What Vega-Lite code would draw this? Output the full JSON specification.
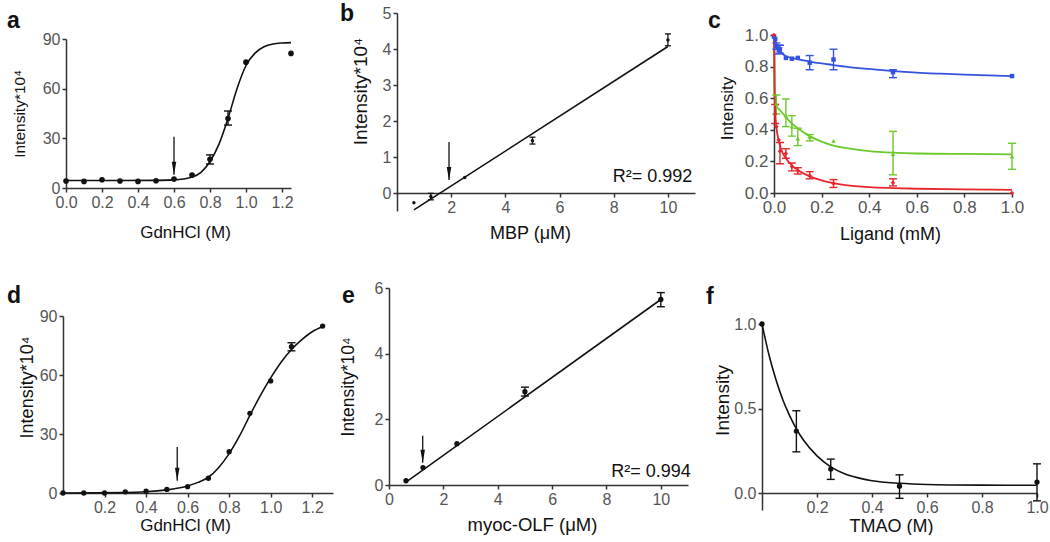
{
"$schema":"https://vega.github.io/schema/vega-lite/v6.json",
"background":"white",
"padding":{"left":7,"top":3,"right":0,"bottom":0},
"columns":3,
"spacing":{"row":77,"column":56},
"bounds":"flush",
"align":"each",
"datasets":{
"a_fit":[{"x":0,"y":4.5},{"x":0.3,"y":4.5},{"x":0.5,"y":4.6},{"x":0.6,"y":4.9},{"x":0.65,"y":5.4},{"x":0.7,"y":6.6},{"x":0.75,"y":9.5},{"x":0.8,"y":16},{"x":0.85,"y":26.5},{"x":0.9,"y":42},{"x":0.95,"y":60},{"x":1.0,"y":74},{"x":1.05,"y":81.5},{"x":1.1,"y":85.3},{"x":1.15,"y":87},{"x":1.2,"y":87.6},{"x":1.25,"y":87.8}],
"a_pts":[{"x":0,"y":4.2},{"x":0.1,"y":4.0},{"x":0.2,"y":5.0},{"x":0.3,"y":4.2},{"x":0.4,"y":4.0},{"x":0.5,"y":4.4},{"x":0.6,"y":5.4},{"x":0.7,"y":7.8},{"x":0.8,"y":17.3},{"x":0.9,"y":42},{"x":1.0,"y":76},{"x":1.25,"y":81.3}],
"a_err":[{"x":0.8,"lo":14.5,"hi":20},{"x":0.9,"lo":38,"hi":46.5}],
"a_arrow":[{"x":0.6,"y":31,"y2":8}],
"b_fit":[{"x":0.625,"y":-0.47},{"x":10,"y":4.07}],
"b_pts":[{"x":0.625,"y":-0.27},{"x":1.25,"y":-0.1},{"x":2.5,"y":0.43},{"x":5,"y":1.45},{"x":10,"y":4.25}],
"b_err":[{"x":1.25,"lo":-0.19,"hi":-0.01},{"x":5,"lo":1.36,"hi":1.55},{"x":10,"lo":4.09,"hi":4.42}],
"b_arrow":[{"x":1.92,"y":1.42,"y2":0.36}],
"b_txt":[{"x":10.9,"y":0.44,"t":"R²= 0.992"}],
"c_fit":[
{"s":"blue","x":0,"y":1.0},{"s":"blue","x":0.005,"y":0.97},{"s":"blue","x":0.01,"y":0.945},{"s":"blue","x":0.02,"y":0.912},{"s":"blue","x":0.03,"y":0.89},{"s":"blue","x":0.05,"y":0.866},{"s":"blue","x":0.075,"y":0.855},{"s":"blue","x":0.1,"y":0.847},{"s":"blue","x":0.15,"y":0.832},{"s":"blue","x":0.2,"y":0.82},{"s":"blue","x":0.25,"y":0.81},{"s":"blue","x":0.3,"y":0.8},{"s":"blue","x":0.4,"y":0.785},{"s":"blue","x":0.5,"y":0.772},{"s":"blue","x":0.6,"y":0.762},{"s":"blue","x":0.7,"y":0.755},{"s":"blue","x":0.8,"y":0.749},{"s":"blue","x":0.9,"y":0.744},{"s":"blue","x":1.0,"y":0.74},
{"s":"green","x":0,"y":1.0},{"s":"green","x":0.003,"y":0.62},{"s":"green","x":0.006,"y":0.565},{"s":"green","x":0.01,"y":0.55},{"s":"green","x":0.025,"y":0.525},{"s":"green","x":0.05,"y":0.48},{"s":"green","x":0.075,"y":0.44},{"s":"green","x":0.1,"y":0.41},{"s":"green","x":0.15,"y":0.36},{"s":"green","x":0.2,"y":0.325},{"s":"green","x":0.25,"y":0.3},{"s":"green","x":0.3,"y":0.285},{"s":"green","x":0.4,"y":0.265},{"s":"green","x":0.5,"y":0.255},{"s":"green","x":0.6,"y":0.25},{"s":"green","x":0.8,"y":0.247},{"s":"green","x":1.0,"y":0.245},
{"s":"red","x":0,"y":1.0},{"s":"red","x":0.002,"y":0.7},{"s":"red","x":0.005,"y":0.52},{"s":"red","x":0.01,"y":0.42},{"s":"red","x":0.02,"y":0.33},{"s":"red","x":0.03,"y":0.275},{"s":"red","x":0.05,"y":0.22},{"s":"red","x":0.075,"y":0.175},{"s":"red","x":0.1,"y":0.145},{"s":"red","x":0.15,"y":0.105},{"s":"red","x":0.2,"y":0.08},{"s":"red","x":0.25,"y":0.062},{"s":"red","x":0.3,"y":0.05},{"s":"red","x":0.4,"y":0.037},{"s":"red","x":0.5,"y":0.031},{"s":"red","x":0.6,"y":0.027},{"s":"red","x":0.8,"y":0.023},{"s":"red","x":1.0,"y":0.02}],
"c_pts":[
{"s":"blue","x":0,"y":0.99},{"s":"blue","x":0.005,"y":0.975},{"s":"blue","x":0.01,"y":0.93},{"s":"blue","x":0.02,"y":0.905},{"s":"blue","x":0.025,"y":0.91},{"s":"blue","x":0.05,"y":0.855},{"s":"blue","x":0.075,"y":0.85},{"s":"blue","x":0.1,"y":0.855},{"s":"blue","x":0.15,"y":0.825},{"s":"blue","x":0.25,"y":0.845},{"s":"blue","x":0.5,"y":0.765},{"s":"blue","x":1.0,"y":0.74},
{"s":"green","x":0.01,"y":0.565},{"s":"green","x":0.05,"y":0.49},{"s":"green","x":0.075,"y":0.42},{"s":"green","x":0.1,"y":0.345},{"s":"green","x":0.15,"y":0.355},{"s":"green","x":0.25,"y":0.33},{"s":"green","x":0.5,"y":0.247},{"s":"green","x":1.0,"y":0.23},
{"s":"red","x":0,"y":1.0},{"s":"red","x":0.005,"y":0.5},{"s":"red","x":0.01,"y":0.42},{"s":"red","x":0.02,"y":0.335},{"s":"red","x":0.025,"y":0.265},{"s":"red","x":0.05,"y":0.25},{"s":"red","x":0.075,"y":0.167},{"s":"red","x":0.1,"y":0.14},{"s":"red","x":0.15,"y":0.11},{"s":"red","x":0.25,"y":0.06},{"s":"red","x":0.5,"y":0.065},{"s":"red","x":1.0,"y":0.0}],
"c_err":[
{"s":"blue","x":0.01,"lo":0.91,"hi":0.95},{"s":"blue","x":0.02,"lo":0.88,"hi":0.935},{"s":"blue","x":0.025,"lo":0.885,"hi":0.935},{"s":"blue","x":0.15,"lo":0.78,"hi":0.87},{"s":"blue","x":0.25,"lo":0.78,"hi":0.91},{"s":"blue","x":0.5,"lo":0.73,"hi":0.78},
{"s":"green","x":0.01,"lo":0.5,"hi":0.62},{"s":"green","x":0.05,"lo":0.42,"hi":0.595},{"s":"green","x":0.075,"lo":0.36,"hi":0.49},{"s":"green","x":0.1,"lo":0.3,"hi":0.41},{"s":"green","x":0.15,"lo":0.33,"hi":0.37},{"s":"green","x":0.5,"lo":0.115,"hi":0.39},{"s":"green","x":1.0,"lo":0.15,"hi":0.315},
{"s":"red","x":0.005,"lo":0.44,"hi":0.56},{"s":"red","x":0.025,"lo":0.185,"hi":0.32},{"s":"red","x":0.05,"lo":0.22,"hi":0.28},{"s":"red","x":0.075,"lo":0.14,"hi":0.19},{"s":"red","x":0.1,"lo":0.12,"hi":0.16},{"s":"red","x":0.15,"lo":0.09,"hi":0.135},{"s":"red","x":0.25,"lo":0.035,"hi":0.085},{"s":"red","x":0.5,"lo":0.045,"hi":0.09}],
"d_fit":[{"x":0,"y":0},{"x":0.3,"y":0.2},{"x":0.4,"y":0.6},{"x":0.5,"y":1.6},{"x":0.55,"y":2.4},{"x":0.6,"y":3.6},{"x":0.65,"y":5.4},{"x":0.7,"y":8},{"x":0.75,"y":13},{"x":0.8,"y":20},{"x":0.85,"y":29},{"x":0.9,"y":39.5},{"x":0.95,"y":49.5},{"x":1.0,"y":58.5},{"x":1.05,"y":66.5},{"x":1.1,"y":73},{"x":1.15,"y":78},{"x":1.2,"y":82},{"x":1.25,"y":84.5}],
"d_pts":[{"x":0,"y":0},{"x":0.1,"y":0},{"x":0.2,"y":0},{"x":0.3,"y":0.6},{"x":0.4,"y":0.9},{"x":0.5,"y":1.8},{"x":0.6,"y":3.2},{"x":0.7,"y":7.5},{"x":0.8,"y":21},{"x":0.9,"y":40.5},{"x":1.0,"y":57},{"x":1.1,"y":74.4},{"x":1.25,"y":84.9}],
"d_err":[{"x":1.1,"lo":72.3,"hi":76.4}],
"d_arrow":[{"x":0.55,"y":23.4,"y2":6.2}],
"e_fit":[{"x":0.6,"y":0.07},{"x":10,"y":5.65}],
"e_pts":[{"x":0.625,"y":0.13},{"x":1.25,"y":0.53},{"x":2.5,"y":1.26},{"x":5,"y":2.84},{"x":10,"y":5.65}],
"e_err":[{"x":5,"lo":2.71,"hi":2.98},{"x":10,"lo":5.43,"hi":5.86}],
"e_arrow":[{"x":1.24,"y":1.5,"y2":0.68}],
"e_txt":[{"x":11.1,"y":0.41,"t":"R²= 0.994"}],
"f_fit":[{"x":0,"y":1.0},{"x":0.025,"y":0.82},{"x":0.05,"y":0.675},{"x":0.075,"y":0.555},{"x":0.1,"y":0.46},{"x":0.125,"y":0.38},{"x":0.15,"y":0.315},{"x":0.2,"y":0.22},{"x":0.25,"y":0.155},{"x":0.3,"y":0.115},{"x":0.35,"y":0.09},{"x":0.4,"y":0.073},{"x":0.5,"y":0.058},{"x":0.6,"y":0.051},{"x":0.8,"y":0.047},{"x":1.0,"y":0.046}],
"f_pts":[{"x":0,"y":1.0},{"x":0.125,"y":0.367},{"x":0.25,"y":0.142},{"x":0.5,"y":0.041},{"x":1.0,"y":0.065}],
"f_err":[{"x":0.125,"lo":0.244,"hi":0.487},{"x":0.25,"lo":0.081,"hi":0.201},{"x":0.5,"lo":-0.031,"hi":0.108},{"x":1.0,"lo":-0.046,"hi":0.173}]
},
"concat":[
{"width":228,"height":175,
"title":{"text":"a","dx":-56,"dy":24},
"layer":[
{"data":{"name":"a_fit"},"mark":{"type":"line","interpolate":"monotone","color":"#111","strokeWidth":1.6},
"encoding":{"x":{"field":"x","type":"quantitative","scale":{"domain":[0,1.25],"range":[3,228],"nice":false,"zero":false},"axis":{"values":[0,0.2,0.4,0.6,0.8,1,1.2],"tickCount":20,"format":".1f","labelOverlap":false,"title":"GdnHCl (M)","titlePadding":14,"titleFontSize":17,"titleX":122}},
"y":{"field":"y","type":"quantitative","scale":{"domain":[0,90],"range":[175,26],"nice":false,"zero":false},"axis":{"values":[0,30,60,90],"tickCount":20,"format":"d","labelOverlap":false,"title":"Intensity*10⁴","offset":-3,"titlePadding":15,"titleFontSize":15.5}}}},
{"data":{"name":"a_err"},"mark":{"type":"rule","color":"#111","strokeWidth":1.4},
"encoding":{"x":{"field":"x","type":"quantitative","scale":{"domain":[0,1.25],"range":[3,228],"nice":false,"zero":false}},"y":{"field":"lo","type":"quantitative","scale":{"domain":[0,90],"range":[175,26],"nice":false,"zero":false}},"y2":{"field":"hi"}}},
{"data":{"name":"a_err"},"mark":{"type":"tick","orient":"horizontal","size":8,"thickness":1.4,"color":"#111","opacity":1},
"encoding":{"x":{"field":"x","type":"quantitative","scale":{"domain":[0,1.25],"range":[3,228],"nice":false,"zero":false}},"y":{"field":"lo","type":"quantitative","scale":{"domain":[0,90],"range":[175,26],"nice":false,"zero":false}}}},
{"data":{"name":"a_err"},"mark":{"type":"tick","orient":"horizontal","size":8,"thickness":1.4,"color":"#111","opacity":1},
"encoding":{"x":{"field":"x","type":"quantitative","scale":{"domain":[0,1.25],"range":[3,228],"nice":false,"zero":false}},"y":{"field":"hi","type":"quantitative","scale":{"domain":[0,90],"range":[175,26],"nice":false,"zero":false}}}},
{"data":{"name":"a_pts"},"mark":{"type":"point","shape":"circle","filled":true,"size":32,"color":"#111","opacity":1},
"encoding":{"x":{"field":"x","type":"quantitative","scale":{"domain":[0,1.25],"range":[3,228],"nice":false,"zero":false}},"y":{"field":"y","type":"quantitative","scale":{"domain":[0,90],"range":[175,26],"nice":false,"zero":false}}}},
{"data":{"name":"a_arrow"},"mark":{"type":"rule","color":"#111","strokeWidth":1.3},
"encoding":{"x":{"field":"x","type":"quantitative","scale":{"domain":[0,1.25],"range":[3,228],"nice":false,"zero":false}},"y":{"field":"y","type":"quantitative","scale":{"domain":[0,90],"range":[175,26],"nice":false,"zero":false}},"y2":{"field":"y2"}}},
{"data":{"name":"a_arrow"},"mark":{"type":"point","shape":"M-0.35,-2L0,0L0.35,-2Z","filled":true,"size":170,"color":"#111","opacity":1},
"encoding":{"x":{"field":"x","type":"quantitative","scale":{"domain":[0,1.25],"range":[3,228],"nice":false,"zero":false}},"y":{"field":"y2","type":"quantitative","scale":{"domain":[0,90],"range":[175,26],"nice":false,"zero":false}}}}
]},
{"width":317,"height":198,
"title":{"text":"b","dx":-49,"dy":25},
"layer":[
{"data":{"name":"b_fit"},"mark":{"type":"line","color":"#111","strokeWidth":1.6},
"encoding":{"x":{"field":"x","type":"quantitative","scale":{"domain":[0,11],"range":[8,306],"nice":false,"zero":false},"axis":{"values":[2,4,6,8,10],"tickCount":20,"format":"d","labelOverlap":false,"title":"MBP (μM)","offset":-18,"titlePadding":9,"titleFontSize":18,"titleX":141}},
"y":{"field":"y","type":"quantitative","scale":{"domain":[-0.5,5],"nice":false,"zero":false},"axis":{"values":[0,1,2,3,4,5],"tickCount":20,"format":"d","labelOverlap":false,"title":"Intensity*10⁴","offset":-8,"titlePadding":12,"titleFontSize":19,"titleY":78}}}},
{"data":{"name":"b_err"},"mark":{"type":"rule","color":"#111","strokeWidth":1.3},
"encoding":{"x":{"field":"x","type":"quantitative","scale":{"domain":[0,11],"range":[8,306],"nice":false,"zero":false}},"y":{"field":"lo","type":"quantitative","scale":{"domain":[-0.5,5],"nice":false,"zero":false}},"y2":{"field":"hi"}}},
{"data":{"name":"b_err"},"mark":{"type":"tick","orient":"horizontal","size":6,"thickness":1.3,"color":"#111","opacity":1},
"encoding":{"x":{"field":"x","type":"quantitative","scale":{"domain":[0,11],"range":[8,306],"nice":false,"zero":false}},"y":{"field":"lo","type":"quantitative","scale":{"domain":[-0.5,5],"nice":false,"zero":false}}}},
{"data":{"name":"b_err"},"mark":{"type":"tick","orient":"horizontal","size":6,"thickness":1.3,"color":"#111","opacity":1},
"encoding":{"x":{"field":"x","type":"quantitative","scale":{"domain":[0,11],"range":[8,306],"nice":false,"zero":false}},"y":{"field":"hi","type":"quantitative","scale":{"domain":[-0.5,5],"nice":false,"zero":false}}}},
{"data":{"name":"b_pts"},"mark":{"type":"point","shape":"circle","filled":true,"size":12,"color":"#111","opacity":1},
"encoding":{"x":{"field":"x","type":"quantitative","scale":{"domain":[0,11],"range":[8,306],"nice":false,"zero":false}},"y":{"field":"y","type":"quantitative","scale":{"domain":[-0.5,5],"nice":false,"zero":false}}}},
{"data":{"name":"b_arrow"},"mark":{"type":"rule","color":"#111","strokeWidth":1.3},
"encoding":{"x":{"field":"x","type":"quantitative","scale":{"domain":[0,11],"range":[8,306],"nice":false,"zero":false}},"y":{"field":"y","type":"quantitative","scale":{"domain":[-0.5,5],"nice":false,"zero":false}},"y2":{"field":"y2"}}},
{"data":{"name":"b_arrow"},"mark":{"type":"point","shape":"M-0.35,-2L0,0L0.35,-2Z","filled":true,"size":170,"color":"#111","opacity":1},
"encoding":{"x":{"field":"x","type":"quantitative","scale":{"domain":[0,11],"range":[8,306],"nice":false,"zero":false}},"y":{"field":"y2","type":"quantitative","scale":{"domain":[-0.5,5],"nice":false,"zero":false}}}},
{"data":{"name":"b_txt"},"mark":{"type":"text","align":"right","baseline":"middle","fontSize":18,"font":"Liberation Sans","color":"#111"},
"encoding":{"x":{"field":"x","type":"quantitative","scale":{"domain":[0,11],"range":[8,306],"nice":false,"zero":false}},"y":{"field":"y","type":"quantitative","scale":{"domain":[-0.5,5],"nice":false,"zero":false}},"text":{"field":"t"}}}
]},
{"width":250,"height":180,
"title":{"text":"c","dx":-54,"dy":24},
"layer":[
{"data":{"name":"c_fit"},"mark":{"type":"line","interpolate":"monotone","strokeWidth":1.8},
"encoding":{"x":{"field":"x","type":"quantitative","scale":{"domain":[0,1],"range":[12,250],"nice":false,"zero":false},"axis":{"values":[0,0.2,0.4,0.6,0.8,1],"tickCount":20,"format":".1f","labelOverlap":false,"title":"Ligand (mM)","titlePadding":10,"titleFontSize":18,"labelFontSize":17,"titleX":128}},
"y":{"field":"y","type":"quantitative","scale":{"domain":[0,1],"range":[180,22],"nice":false,"zero":false},"axis":{"values":[0,0.2,0.4,0.6,0.8,1],"tickCount":20,"format":".1f","labelOverlap":false,"title":"Intensity","offset":-12,"titlePadding":8,"titleFontSize":17,"labelFontSize":17,"titleY":95}},
"color":{"field":"s","type":"nominal","scale":{"domain":["blue","green","red"],"range":["#3452e0","#6cc92a","#e8262c"]},"legend":null}}},
{"data":{"name":"c_err"},"mark":{"type":"rule","strokeWidth":1.4},
"encoding":{"x":{"field":"x","type":"quantitative","scale":{"domain":[0,1],"range":[12,250],"nice":false,"zero":false}},"y":{"field":"lo","type":"quantitative","scale":{"domain":[0,1],"range":[180,22],"nice":false,"zero":false}},"y2":{"field":"hi"},
"color":{"field":"s","type":"nominal","scale":{"domain":["blue","green","red"],"range":["#3452e0","#6cc92a","#e8262c"]},"legend":null}}},
{"data":{"name":"c_err"},"mark":{"type":"tick","orient":"horizontal","size":8,"thickness":1.4,"opacity":1},
"encoding":{"x":{"field":"x","type":"quantitative","scale":{"domain":[0,1],"range":[12,250],"nice":false,"zero":false}},"y":{"field":"lo","type":"quantitative","scale":{"domain":[0,1],"range":[180,22],"nice":false,"zero":false}},
"color":{"field":"s","type":"nominal","scale":{"domain":["blue","green","red"],"range":["#3452e0","#6cc92a","#e8262c"]},"legend":null}}},
{"data":{"name":"c_err"},"mark":{"type":"tick","orient":"horizontal","size":8,"thickness":1.4,"opacity":1},
"encoding":{"x":{"field":"x","type":"quantitative","scale":{"domain":[0,1],"range":[12,250],"nice":false,"zero":false}},"y":{"field":"hi","type":"quantitative","scale":{"domain":[0,1],"range":[180,22],"nice":false,"zero":false}},
"color":{"field":"s","type":"nominal","scale":{"domain":["blue","green","red"],"range":["#3452e0","#6cc92a","#e8262c"]},"legend":null}}},
{"data":{"name":"c_pts"},"mark":{"type":"point","filled":true,"size":20,"opacity":1},
"encoding":{"x":{"field":"x","type":"quantitative","scale":{"domain":[0,1],"range":[12,250],"nice":false,"zero":false}},"y":{"field":"y","type":"quantitative","scale":{"domain":[0,1],"range":[180,22],"nice":false,"zero":false}},
"color":{"field":"s","type":"nominal","scale":{"domain":["blue","green","red"],"range":["#3452e0","#6cc92a","#e8262c"]},"legend":null},
"shape":{"field":"s","type":"nominal","scale":{"domain":["blue","green","red"],"range":["square","triangle-up","diamond"]},"legend":null}}}
]},
{"width":270,"height":205,
"title":{"text":"d","dx":-56,"dy":24},
"layer":[
{"data":{"name":"d_fit"},"mark":{"type":"line","interpolate":"monotone","color":"#111","strokeWidth":1.6},
"encoding":{"x":{"field":"x","type":"quantitative","scale":{"domain":[0,1.3],"nice":false,"zero":false},"axis":{"values":[0.2,0.4,0.6,0.8,1,1.2],"tickCount":20,"format":".1f","labelOverlap":false,"title":"GdnHCl (M)","titlePadding":2,"titleFontSize":17,"titleX":122}},
"y":{"field":"y","type":"quantitative","scale":{"domain":[0,90],"range":[205,28],"nice":false,"zero":false},"axis":{"values":[0,30,60,90],"tickCount":20,"format":"d","labelOverlap":false,"title":"Intensity*10⁴","titlePadding":3,"titleFontSize":18,"titleY":99}}}},
{"data":{"name":"d_err"},"mark":{"type":"rule","color":"#111","strokeWidth":1.4},
"encoding":{"x":{"field":"x","type":"quantitative","scale":{"domain":[0,1.3],"nice":false,"zero":false}},"y":{"field":"lo","type":"quantitative","scale":{"domain":[0,90],"range":[205,28],"nice":false,"zero":false}},"y2":{"field":"hi"}}},
{"data":{"name":"d_err"},"mark":{"type":"tick","orient":"horizontal","size":8,"thickness":1.4,"color":"#111","opacity":1},
"encoding":{"x":{"field":"x","type":"quantitative","scale":{"domain":[0,1.3],"nice":false,"zero":false}},"y":{"field":"lo","type":"quantitative","scale":{"domain":[0,90],"range":[205,28],"nice":false,"zero":false}}}},
{"data":{"name":"d_err"},"mark":{"type":"tick","orient":"horizontal","size":8,"thickness":1.4,"color":"#111","opacity":1},
"encoding":{"x":{"field":"x","type":"quantitative","scale":{"domain":[0,1.3],"nice":false,"zero":false}},"y":{"field":"hi","type":"quantitative","scale":{"domain":[0,90],"range":[205,28],"nice":false,"zero":false}}}},
{"data":{"name":"d_pts"},"mark":{"type":"point","shape":"circle","filled":true,"size":28,"color":"#111","opacity":1},
"encoding":{"x":{"field":"x","type":"quantitative","scale":{"domain":[0,1.3],"nice":false,"zero":false}},"y":{"field":"y","type":"quantitative","scale":{"domain":[0,90],"range":[205,28],"nice":false,"zero":false}}}},
{"data":{"name":"d_arrow"},"mark":{"type":"rule","color":"#111","strokeWidth":1.3},
"encoding":{"x":{"field":"x","type":"quantitative","scale":{"domain":[0,1.3],"nice":false,"zero":false}},"y":{"field":"y","type":"quantitative","scale":{"domain":[0,90],"range":[205,28],"nice":false,"zero":false}},"y2":{"field":"y2"}}},
{"data":{"name":"d_arrow"},"mark":{"type":"point","shape":"M-0.35,-2L0,0L0.35,-2Z","filled":true,"size":170,"color":"#111","opacity":1},
"encoding":{"x":{"field":"x","type":"quantitative","scale":{"domain":[0,1.3],"nice":false,"zero":false}},"y":{"field":"y2","type":"quantitative","scale":{"domain":[0,90],"range":[205,28],"nice":false,"zero":false}}}}
]},
{"width":299,"height":197,
"title":{"text":"e","dx":-47,"dy":32},
"layer":[
{"data":{"name":"e_fit"},"mark":{"type":"line","color":"#111","strokeWidth":1.6},
"encoding":{"x":{"field":"x","type":"quantitative","scale":{"domain":[0,11],"nice":false,"zero":false},"axis":{"values":[0,2,4,6,8,10],"tickCount":20,"format":"d","labelOverlap":false,"title":"myoc-OLF (μM)","titlePadding":8,"titleFontSize":18.5,"titleX":143}},
"y":{"field":"y","type":"quantitative","scale":{"domain":[0,6],"nice":false,"zero":false},"axis":{"values":[0,2,4,6],"tickCount":20,"format":"d","labelOverlap":false,"title":"Intensity*10⁴","titlePadding":17,"titleFontSize":17.5}}}},
{"data":{"name":"e_err"},"mark":{"type":"rule","color":"#111","strokeWidth":1.4},
"encoding":{"x":{"field":"x","type":"quantitative","scale":{"domain":[0,11],"nice":false,"zero":false}},"y":{"field":"lo","type":"quantitative","scale":{"domain":[0,6],"nice":false,"zero":false}},"y2":{"field":"hi"}}},
{"data":{"name":"e_err"},"mark":{"type":"tick","orient":"horizontal","size":8,"thickness":1.4,"color":"#111","opacity":1},
"encoding":{"x":{"field":"x","type":"quantitative","scale":{"domain":[0,11],"nice":false,"zero":false}},"y":{"field":"lo","type":"quantitative","scale":{"domain":[0,6],"nice":false,"zero":false}}}},
{"data":{"name":"e_err"},"mark":{"type":"tick","orient":"horizontal","size":8,"thickness":1.4,"color":"#111","opacity":1},
"encoding":{"x":{"field":"x","type":"quantitative","scale":{"domain":[0,11],"nice":false,"zero":false}},"y":{"field":"hi","type":"quantitative","scale":{"domain":[0,6],"nice":false,"zero":false}}}},
{"data":{"name":"e_pts"},"mark":{"type":"point","shape":"circle","filled":true,"size":28,"color":"#111","opacity":1},
"encoding":{"x":{"field":"x","type":"quantitative","scale":{"domain":[0,11],"nice":false,"zero":false}},"y":{"field":"y","type":"quantitative","scale":{"domain":[0,6],"nice":false,"zero":false}}}},
{"data":{"name":"e_arrow"},"mark":{"type":"rule","color":"#111","strokeWidth":1.3},
"encoding":{"x":{"field":"x","type":"quantitative","scale":{"domain":[0,11],"nice":false,"zero":false}},"y":{"field":"y","type":"quantitative","scale":{"domain":[0,6],"nice":false,"zero":false}},"y2":{"field":"y2"}}},
{"data":{"name":"e_arrow"},"mark":{"type":"point","shape":"M-0.35,-2L0,0L0.35,-2Z","filled":true,"size":170,"color":"#111","opacity":1},
"encoding":{"x":{"field":"x","type":"quantitative","scale":{"domain":[0,11],"nice":false,"zero":false}},"y":{"field":"y2","type":"quantitative","scale":{"domain":[0,6],"nice":false,"zero":false}}}},
{"data":{"name":"e_txt"},"mark":{"type":"text","align":"right","baseline":"middle","fontSize":18,"font":"Liberation Sans","color":"#111"},
"encoding":{"x":{"field":"x","type":"quantitative","scale":{"domain":[0,11],"nice":false,"zero":false}},"y":{"field":"y","type":"quantitative","scale":{"domain":[0,6],"nice":false,"zero":false}},"text":{"field":"t"}}}
]},
{"width":275,"height":222,
"title":{"text":"f","dx":-56,"dy":25},
"layer":[
{"data":{"name":"f_fit"},"mark":{"type":"line","interpolate":"monotone","color":"#111","strokeWidth":1.6},
"encoding":{"x":{"field":"x","type":"quantitative","scale":{"domain":[0,1],"nice":false,"zero":false},"axis":{"values":[0.2,0.4,0.6,0.8,1],"tickCount":20,"format":".1f","labelOverlap":false,"title":"TMAO (M)","offset":-17,"titlePadding":2,"titleFontSize":18,"titleX":129}},
"y":{"field":"y","type":"quantitative","scale":{"domain":[-0.1,1],"range":[222,36],"nice":false,"zero":false},"axis":{"values":[0,0.5,1],"tickCount":20,"format":".1f","labelOverlap":false,"title":"Intensity","titlePadding":1,"titleFontSize":19,"titleY":112}}}},
{"data":{"name":"f_err"},"mark":{"type":"rule","color":"#111","strokeWidth":1.4},
"encoding":{"x":{"field":"x","type":"quantitative","scale":{"domain":[0,1],"nice":false,"zero":false}},"y":{"field":"lo","type":"quantitative","scale":{"domain":[-0.1,1],"range":[222,36],"nice":false,"zero":false}},"y2":{"field":"hi"}}},
{"data":{"name":"f_err"},"mark":{"type":"tick","orient":"horizontal","size":8,"thickness":1.4,"color":"#111","opacity":1},
"encoding":{"x":{"field":"x","type":"quantitative","scale":{"domain":[0,1],"nice":false,"zero":false}},"y":{"field":"lo","type":"quantitative","scale":{"domain":[-0.1,1],"range":[222,36],"nice":false,"zero":false}}}},
{"data":{"name":"f_err"},"mark":{"type":"tick","orient":"horizontal","size":8,"thickness":1.4,"color":"#111","opacity":1},
"encoding":{"x":{"field":"x","type":"quantitative","scale":{"domain":[0,1],"nice":false,"zero":false}},"y":{"field":"hi","type":"quantitative","scale":{"domain":[-0.1,1],"range":[222,36],"nice":false,"zero":false}}}},
{"data":{"name":"f_pts"},"mark":{"type":"point","shape":"circle","filled":true,"size":28,"color":"#111","opacity":1},
"encoding":{"x":{"field":"x","type":"quantitative","scale":{"domain":[0,1],"nice":false,"zero":false}},"y":{"field":"y","type":"quantitative","scale":{"domain":[-0.1,1],"range":[222,36],"nice":false,"zero":false}}}}
]}
],
"config":{
"view":{"stroke":null},
"font":"Liberation Sans",
"axis":{"grid":false,"labelFont":"Liberation Sans","titleFont":"Liberation Sans","labelFontSize":16,"titleFontSize":17,"labelColor":"#555","titleColor":"#111","titleFontWeight":"normal","domainColor":"#333","domainWidth":1.5,"tickColor":"#333","tickWidth":1.5,"tickSize":4,"labelPadding":2,"labelFlush":false,"labelOverlap":false},
"title":{"font":"Liberation Sans","fontSize":23,"fontWeight":"bold","color":"#111","anchor":"start","frame":"group","offset":0,"baseline":"alphabetic"}
}
}
